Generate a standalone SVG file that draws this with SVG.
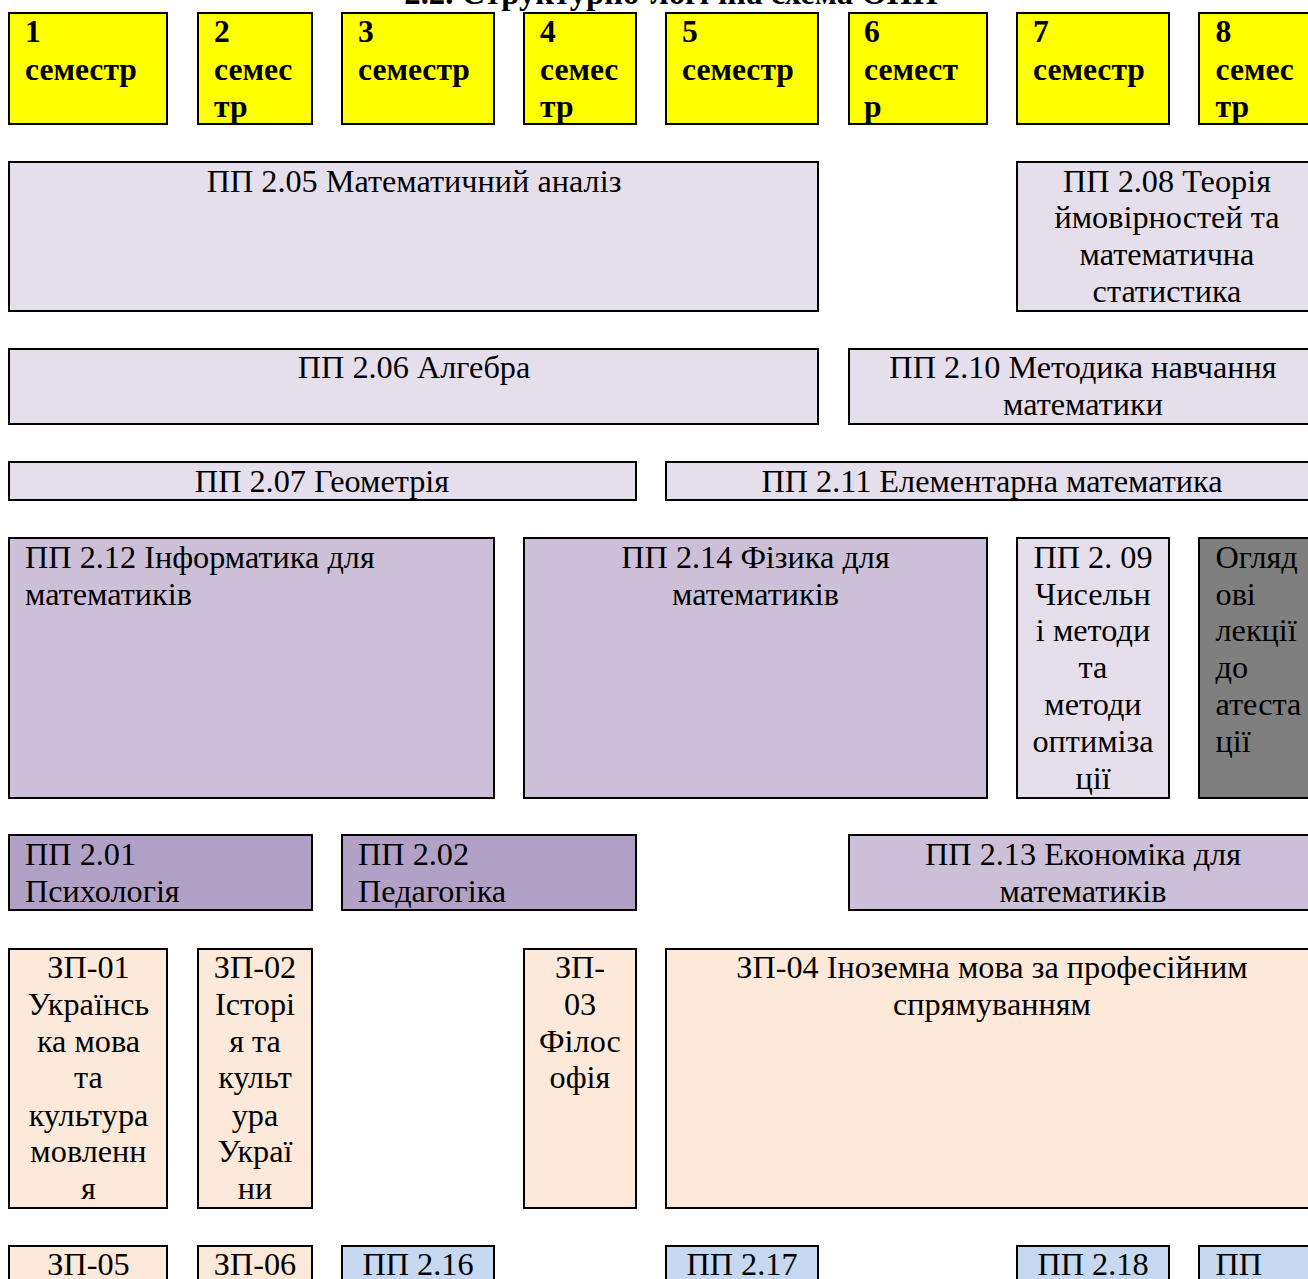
<svg xmlns="http://www.w3.org/2000/svg" width="1308" height="1279" viewBox="0 0 1308 1279">
<style>
text{font-family:"Liberation Serif","Times New Roman",serif;font-size:32.25px;fill:#000}
.b{font-weight:bold;font-size:31.6px}
.t{font-weight:bold;font-size:32.7px}
.c{text-anchor:middle}
rect{stroke:#000;stroke-width:2}
.y{fill:#ffff00}.l{fill:#e5dfec}.m{fill:#ccc0d9}.d{fill:#b2a1c7}.o{fill:#fde9d9}.s{fill:#c6d9f0}.g{fill:#7f7f7f}
</style>
<rect width="1308" height="1279" fill="#fff" style="stroke:none"/>
<text id="title" class="t c" x="671" y="4">2.2. Структурно-логічна схема ОПП</text>
<g id="connectors"/>
<g id="s1"><rect class="y" x="9" y="13" width="158" height="111"/><text class="b" x="25" y="42">1</text><text class="b" x="25" y="80">семестр</text></g>
<g id="s2"><rect class="y" x="198" y="13" width="114" height="111"/><text class="b" x="214" y="42">2</text><text class="b" x="214" y="80">семес</text><text class="b" x="214" y="117">тр</text></g>
<g id="s3"><rect class="y" x="342" y="13" width="152" height="111"/><text class="b" x="358" y="42">3</text><text class="b" x="358" y="80">семестр</text></g>
<g id="s4"><rect class="y" x="524" y="13" width="112" height="111"/><text class="b" x="540" y="42">4</text><text class="b" x="540" y="80">семес</text><text class="b" x="540" y="117">тр</text></g>
<g id="s5"><rect class="y" x="666" y="13" width="152" height="111"/><text class="b" x="682" y="42">5</text><text class="b" x="682" y="80">семестр</text></g>
<g id="s6"><rect class="y" x="849" y="13" width="138" height="111"/><text class="b" x="864" y="42">6</text><text class="b" x="864" y="80">семест</text><text class="b" x="864" y="117">р</text></g>
<g id="s7"><rect class="y" x="1017" y="13" width="152" height="111"/><text class="b" x="1033" y="42">7</text><text class="b" x="1033" y="80">семестр</text></g>
<g id="s8"><rect class="y" x="1199" y="13" width="121" height="111"/><text class="b" x="1215.5" y="42">8</text><text class="b" x="1215.5" y="80">семес</text><text class="b" x="1215.5" y="117">тр</text></g>
<g id="pp205"><rect class="l" x="9" y="162" width="809" height="149"/><text class="c" x="414" y="192">ПП 2.05 Математичний аналіз</text></g>
<g id="pp208"><rect class="l" x="1017" y="162" width="303" height="149"/><text class="c" x="1167" y="192">ПП 2.08 Теорія</text><text class="c" x="1167" y="228">ймовірностей та</text><text class="c" x="1167" y="265">математична</text><text class="c" x="1167" y="302">статистика</text></g>
<g id="pp206"><rect class="l" x="9" y="349" width="809" height="75"/><text class="c" x="414" y="378">ПП 2.06 Алгебра</text></g>
<g id="pp210"><rect class="l" x="849" y="349" width="471" height="75"/><text class="c" x="1083" y="378">ПП 2.10 Методика навчання</text><text class="c" x="1083" y="415">математики</text></g>
<g id="pp207"><rect class="l" x="9" y="462" width="627" height="38"/><text class="c" x="322" y="492">ПП 2.07 Геометрія</text></g>
<g id="pp211"><rect class="l" x="666" y="462" width="654" height="38"/><text class="c" x="992" y="492">ПП 2.11 Елементарна математика</text></g>
<g id="pp212"><rect class="m" x="9" y="538" width="485" height="260"/><text x="25" y="568">ПП 2.12 Інформатика для</text><text x="25" y="605">математиків</text></g>
<g id="pp214"><rect class="m" x="524" y="538" width="463" height="260"/><text class="c" x="755.5" y="568">ПП 2.14 Фізика для</text><text class="c" x="755.5" y="605">математиків</text></g>
<g id="pp209"><rect class="l" x="1017" y="538" width="152" height="260"/><text class="c" x="1093" y="568">ПП 2. 09</text><text class="c" x="1093" y="605">Чисельн</text><text class="c" x="1093" y="641">і методи</text><text class="c" x="1093" y="678">та</text><text class="c" x="1093" y="715">методи</text><text class="c" x="1093" y="752">оптиміза</text><text class="c" x="1093" y="789">ції</text></g>
<g id="review"><rect class="g" x="1199" y="538" width="121" height="260"/><text x="1215.5" y="568">Огляд</text><text x="1215.5" y="605">ові</text><text x="1215.5" y="641">лекції</text><text x="1215.5" y="678">до</text><text x="1215.5" y="715">атеста</text><text x="1215.5" y="752">ції</text></g>
<g id="pp201"><rect class="d" x="9" y="835" width="303" height="75"/><text x="25" y="865">ПП 2.01</text><text x="25" y="902">Психологія</text></g>
<g id="pp202"><rect class="d" x="342" y="835" width="294" height="75"/><text x="358" y="865">ПП 2.02</text><text x="358" y="902">Педагогіка</text></g>
<g id="pp213"><rect class="m" x="849" y="835" width="471" height="75"/><text class="c" x="1083" y="865">ПП 2.13 Економіка для</text><text class="c" x="1083" y="902">математиків</text></g>
<g id="zp01"><rect class="o" x="9" y="949" width="158" height="259"/><text class="c" x="88.5" y="978">ЗП-01</text><text class="c" x="88.5" y="1015">Українсь</text><text class="c" x="88.5" y="1052">ка мова</text><text class="c" x="88.5" y="1088">та</text><text class="c" x="88.5" y="1126">культура</text><text class="c" x="88.5" y="1162">мовленн</text><text class="c" x="88.5" y="1199">я</text></g>
<g id="zp02"><rect class="o" x="198" y="949" width="114" height="259"/><text class="c" x="255" y="978">ЗП-02</text><text class="c" x="255" y="1015">Історі</text><text class="c" x="255" y="1052">я та</text><text class="c" x="255" y="1088">культ</text><text class="c" x="255" y="1126">ура</text><text class="c" x="255" y="1162">Украї</text><text class="c" x="255" y="1199">ни</text></g>
<g id="zp03"><rect class="o" x="524" y="949" width="112" height="259"/><text class="c" x="580" y="978">ЗП-</text><text class="c" x="580" y="1015">03</text><text class="c" x="580" y="1052">Філос</text><text class="c" x="580" y="1088">офія</text></g>
<g id="zp04"><rect class="o" x="666" y="949" width="654" height="259"/><text class="c" x="992" y="978">ЗП-04 Іноземна мова за професійним</text><text class="c" x="992" y="1015">спрямуванням</text></g>
<g id="zp05"><rect class="o" x="9" y="1246" width="158" height="60"/><text class="c" x="88.5" y="1275">ЗП-05</text></g>
<g id="zp06"><rect class="o" x="198" y="1246" width="114" height="60"/><text class="c" x="255" y="1275">ЗП-06</text></g>
<g id="pp216"><rect class="s" x="342" y="1246" width="152" height="60"/><text class="c" x="418" y="1275">ПП 2.16</text></g>
<g id="pp217"><rect class="s" x="666" y="1246" width="152" height="60"/><text class="c" x="742" y="1275">ПП 2.17</text></g>
<g id="pp218"><rect class="s" x="1017" y="1246" width="152" height="60"/><text class="c" x="1093" y="1275">ПП 2.18</text></g>
<g id="pp219"><rect class="s" x="1199" y="1246" width="121" height="60"/><text x="1215.5" y="1275">ПП</text></g>
</svg>
